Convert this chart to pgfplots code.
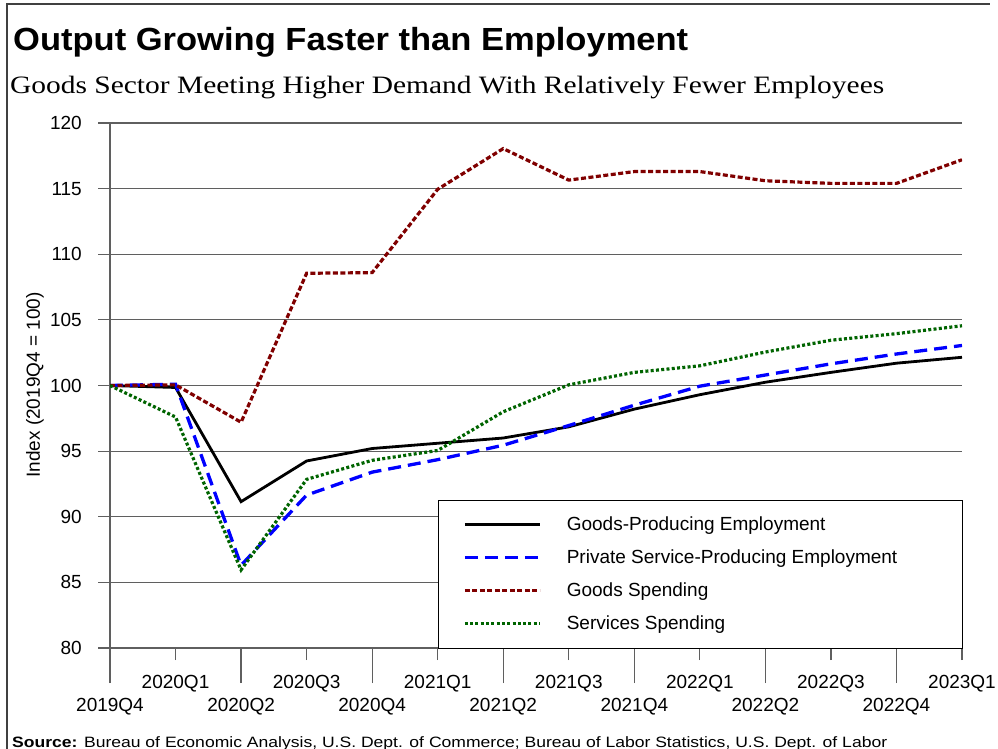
\documentclass[border=0pt]{standalone}
\usepackage{pgfplots}
\pgfplotsset{compat=1.18}
\usepackage{pgfplotstable}
\usepackage{graphicx}
\usepackage{fontspec}
\setmainfont{Liberation Sans}
\newfontfamily\serifsub{Liberation Serif}
\definecolor{cblue}{RGB}{0,0,255}
\definecolor{cred}{RGB}{128,0,0}
\definecolor{cgreen}{RGB}{0,100,0}
\definecolor{gridc}{RGB}{95,95,95}

\pgfplotstableread{
x gpe pspe gs ss
0 100 100 100 100
1 99.85 100.1 100.05 97.6
2 91.15 86.3 97.2 85.95
3 94.25 91.65 108.55 92.85
4 95.2 93.4 108.6 94.3
5 95.6 94.35 114.95 95.05
6 96.0 95.45 118.05 98.0
7 96.85 96.95 115.65 100.05
8 98.2 98.5 116.3 101.0
9 99.3 99.95 116.3 101.5
10 100.25 100.8 115.6 102.55
11 101.0 101.65 115.4 103.45
12 101.7 102.4 115.4 103.95
13 102.15 103.05 117.2 104.55
}\data

\begin{document}
\begin{tikzpicture}
\path[use as bounding box] (0bp,0bp) rectangle (998bp,-749bp);
\draw[black!75, line width=1.5bp] (7bp,-749bp) -- (7bp,-4bp) -- (990bp,-4bp);
\node[anchor=base west, inner sep=0pt] at (13bp,-50bp)
  {\resizebox{675bp}{\height}{\fontsize{32bp}{36bp}\selectfont\bfseries Output Growing Faster than Employment}};
\node[anchor=base west, inner sep=0pt] at (10bp,-93bp)
  {\resizebox{874bp}{\height}{\serifsub\fontsize{25bp}{28bp}\selectfont Goods Sector Meeting Higher Demand With Relatively Fewer Employees}};
\begin{axis}[
  at={(110bp,-648bp)}, anchor=south west,
  width=852bp, height=525bp, scale only axis,
  xmin=0, xmax=13, ymin=80, ymax=120,
  axis x line*=bottom, axis y line*=left,
  axis line style={gridc, line width=1.2bp, -},
  ytick={80,85,...,120},
  ymajorgrids, grid style={gridc, line width=1.2bp},
  xtick={1,3,5,7,9,11,13},
  xticklabels={2020Q1,2020Q3,2021Q1,2021Q3,2022Q1,2022Q3,2023Q1},
  extra x ticks={0,2,4,6,8,10,12},
  extra x tick labels={2019Q4,2020Q2,2020Q4,2021Q2,2021Q4,2022Q2,2022Q4},
  extra x tick style={major tick length=35bp},
  tick align=outside, major tick length=12bp,
  tick style={gridc, line width=1.2bp},
  tick label style={font=\fontsize{19bp}{22bp}\selectfont},
  /pgf/number format/assume math mode=true,
  xticklabel style={anchor=north, inner sep=0pt, yshift=-15bp},
  yticklabel style={anchor=east, inner sep=0pt, xshift=-16bp},
  legend style={at={(rel axis cs:1,0)}, anchor=south east, draw=black, fill=white,
    inner xsep=0pt, inner ysep=8bp, row sep=0pt, font=\fontsize{19bp}{22bp}\selectfont,
    nodes={inner sep=0pt}},
  legend cell align=left,
  legend image code/.code={\path[draw=none, fill=none] (-27bp,-16.5bp) rectangle (102bp,16.5bp); \draw[#1] (0bp,0bp) -- (75bp,0bp);},
]
\addplot[black, line width=2.8bp] table[x=x,y=gpe]{\data};
\addlegendentry{\makebox[395bp][l]{Goods-Producing Employment}}
\addplot[cblue, line width=3.3bp, dash pattern=on 13bp off 7bp] table[x=x,y=pspe]{\data};
\addlegendentry{\makebox[395bp][l]{Private Service-Producing Employment}}
\addplot[cred, line width=3.2bp, dash pattern=on 5bp off 2.5bp] table[x=x,y=gs]{\data};
\addlegendentry{\makebox[395bp][l]{Goods Spending}}
\addplot[cgreen, line width=3.2bp, dash pattern=on 3bp off 2.3bp] table[x=x,y=ss]{\data};
\addlegendentry{\makebox[395bp][l]{Services Spending}}
\end{axis}
\node[rotate=90, inner sep=0pt, font=\fontsize{19bp}{22bp}\selectfont] at (35bp,-385bp) {Index (2019Q4 = 100)};
\node[anchor=base west, inner sep=0pt] at (12bp,-747bp)
  {\resizebox{875bp}{\height}{\fontsize{15bp}{18bp}\selectfont\textbf{Source:} Bureau of Economic Analysis, U.S. Dept. of Commerce; Bureau of Labor Statistics, U.S. Dept. of Labor}};
\end{tikzpicture}
\end{document}
